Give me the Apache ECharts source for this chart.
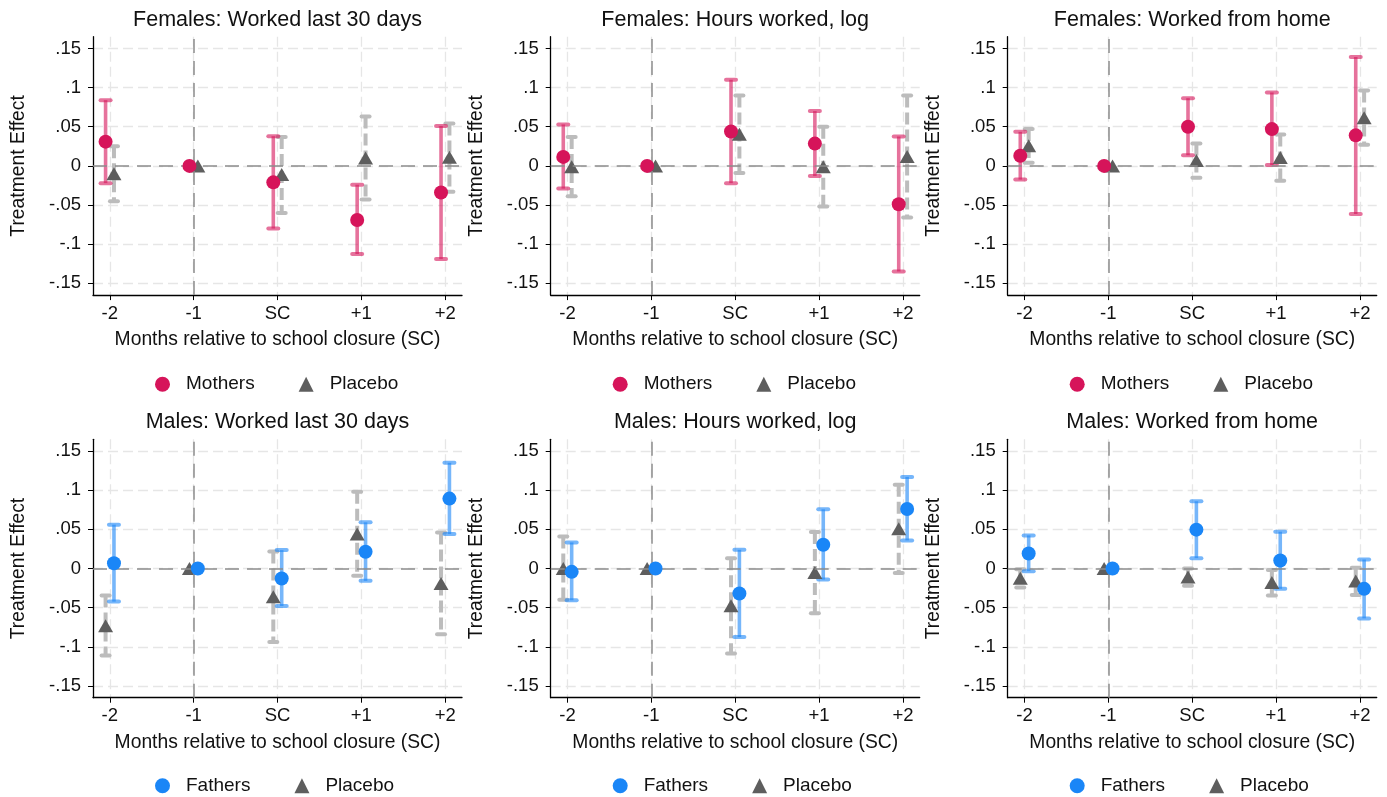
<!DOCTYPE html>
<html>
<head>
<meta charset="utf-8">
<script src="https://cdn.jsdelivr.net/npm/echarts@6/dist/echarts.min.js"></script>
<style>
html,body{margin:0;padding:0;background:#fff;}
#chart{width:1387px;height:797px;}
</style>
</head>
<body>
<div id="chart"></div>
<script>
// ---------- data ----------
const categories = ['-2', '-1', 'SC', '+1', '+2'];
const yTicks = [-0.15, -0.1, -0.05, 0, 0.05, 0.1, 0.15];
const panelTitles = [
  'Females: Worked last 30 days', 'Females: Hours worked, log', 'Females: Worked from home',
  'Males: Worked last 30 days', 'Males: Hours worked, log', 'Males: Worked from home'
];

// Females: Worked last 30 days
const fWorkMothers   = [0.031, 0, -0.021, -0.069, -0.034];
const fWorkMothersLo = [-0.022, 0, -0.080, -0.1125, -0.119];
const fWorkMothersHi = [0.084, 0, 0.038, -0.024, 0.051];
const fWorkPlacebo   = [-0.010, 0, -0.011, 0.010, 0.011];
const fWorkPlaceboLo = [-0.045, 0, -0.060, -0.043, -0.033];
const fWorkPlaceboHi = [0.025, 0, 0.037, 0.063, 0.054];

// Females: Hours worked, log
const fHoursMothers   = [0.0115, 0, 0.044, 0.0285, -0.049];
const fHoursMothersLo = [-0.029, 0, -0.022, -0.013, -0.135];
const fHoursMothersHi = [0.053, 0, 0.110, 0.070, 0.0375];
const fHoursPlacebo   = [-0.001, 0, 0.0405, -0.001, 0.012];
const fHoursPlaceboLo = [-0.0388, 0, -0.009, -0.052, -0.066];
const fHoursPlaceboHi = [0.037, 0, 0.090, 0.050, 0.090];

// Females: Worked from home
const fHomeMothers   = [0.013, 0, 0.050, 0.047, 0.039];
const fHomeMothersLo = [-0.0175, 0, 0.0136, 0.001, -0.0614];
const fHomeMothersHi = [0.0435, 0, 0.0865, 0.0938, 0.139];
const fHomePlacebo   = [0.0258, 0, 0.0068, 0.0106, 0.0616];
const fHomePlaceboLo = [0.004, 0, -0.015, -0.019, 0.027];
const fHomePlaceboHi = [0.047, 0, 0.0286, 0.040, 0.0963];

// Males: Worked last 30 days
const mWorkFathers   = [0.0068, 0, -0.0128, 0.0214, 0.0893];
const mWorkFathersLo = [-0.0423, 0, -0.0479, -0.0158, 0.044];
const mWorkFathersHi = [0.056, 0, 0.0235, 0.059, 0.135];
const mWorkPlacebo   = [-0.073, 0, -0.036, 0.044, -0.019];
const mWorkPlaceboLo = [-0.111, 0, -0.094, -0.0094, -0.084];
const mWorkPlaceboHi = [-0.0346, 0, 0.0218, 0.0979, 0.046];

// Males: Hours worked, log
const mHoursFathers   = [-0.0043, 0, -0.032, 0.0303, 0.076];
const mHoursFathersLo = [-0.0406, 0, -0.0876, -0.0141, 0.0359];
const mHoursFathersHi = [0.0333, 0, 0.0239, 0.0756, 0.117];
const mHoursPlacebo   = [0.0, 0, -0.0477, -0.005, 0.0509];
const mHoursPlaceboLo = [-0.040, 0, -0.1085, -0.057, -0.0056];
const mHoursPlaceboHi = [0.041, 0, 0.0132, 0.0466, 0.107];

// Males: Worked from home
const mHomeFathers   = [0.0192, 0, 0.0496, 0.0103, -0.026];
const mHomeFathersLo = [-0.0034, 0, 0.0132, -0.026, -0.0637];
const mHomeFathersHi = [0.0423, 0, 0.0859, 0.047, 0.0115];
const mHomePlacebo   = [-0.0125, 0, -0.011, -0.018, -0.016];
const mHomePlaceboLo = [-0.0244, 0, -0.022, -0.0346, -0.0337];
const mHomePlaceboHi = [-0.001, 0, 0.0, -0.002, 0.001];

// ---------- layout / style ----------
const FONT = '"Liberation Sans", Arial, sans-serif';
const OFF = 0.05;
const gridLefts = [93, 550.7, 1007.7];
const gridTops = [36.7, 439.3];
const GW = 369, GH = 258.4;

const panels = [
  {group: 'Mothers', m: fWorkMothers, mLo: fWorkMothersLo, mHi: fWorkMothersHi, p: fWorkPlacebo, pLo: fWorkPlaceboLo, pHi: fWorkPlaceboHi},
  {group: 'Mothers', m: fHoursMothers, mLo: fHoursMothersLo, mHi: fHoursMothersHi, p: fHoursPlacebo, pLo: fHoursPlaceboLo, pHi: fHoursPlaceboHi},
  {group: 'Mothers', m: fHomeMothers, mLo: fHomeMothersLo, mHi: fHomeMothersHi, p: fHomePlacebo, pLo: fHomePlaceboLo, pHi: fHomePlaceboHi},
  {group: 'Fathers', m: mWorkFathers, mLo: mWorkFathersLo, mHi: mWorkFathersHi, p: mWorkPlacebo, pLo: mWorkPlaceboLo, pHi: mWorkPlaceboHi},
  {group: 'Fathers', m: mHoursFathers, mLo: mHoursFathersLo, mHi: mHoursFathersHi, p: mHoursPlacebo, pLo: mHoursPlaceboLo, pHi: mHoursPlaceboHi},
  {group: 'Fathers', m: mHomeFathers, mLo: mHomeFathersLo, mHi: mHomeFathersHi, p: mHomePlacebo, pLo: mHomePlaceboLo, pHi: mHomePlaceboHi}
];

const COL = {
  Mothers: {dot: '#d6145a', bar: 'rgba(214,20,90,0.6)'},
  Fathers: {dot: '#1a86f7', bar: 'rgba(26,134,247,0.6)'},
  Placebo: {dot: '#5e5e5e', bar: '#bcbcbc'}
};

function ciRender(color, dashed) {
  return function (params, api) {
    const x = api.value(0), lo = api.value(1), hi = api.value(2);
    if (lo === hi) return null;
    const a = api.coord([x, hi]), b = api.coord([x, lo]);
    const capW = dashed ? 8 : 10;
    const main = {stroke: color, lineWidth: dashed ? 4 : 3.6, lineCap: 'butt'};
    if (dashed) main.lineDash = [12, 5];
    const cap = {stroke: color, lineWidth: 4, lineCap: 'round'};
    return {type: 'group', children: [
      {type: 'line', shape: {x1: a[0], y1: a[1], x2: b[0], y2: b[1]}, style: main},
      {type: 'line', shape: {x1: a[0] - capW / 2, y1: a[1], x2: a[0] + capW / 2, y2: a[1]}, style: cap},
      {type: 'line', shape: {x1: b[0] - capW / 2, y1: b[1], x2: b[0] + capW / 2, y2: b[1]}, style: cap}
    ]};
  };
}

function fmtY(v) {
  if (Math.abs(v) < 1e-9) return '0';
  let s = Math.abs(v).toFixed(2).replace(/0+$/, '').replace(/^0/, '');
  return (v < 0 ? '-' : '') + s;
}

const grid = [], xAxis = [], yAxis = [], series = [], title = [], legend = [];
panels.forEach((pn, i) => {
  const col = i % 3, row = Math.floor(i / 3);
  const left = gridLefts[col], top = gridTops[row];
  grid.push({left: left, top: top, width: GW, height: GH, containLabel: false});
  title.push({
    text: panelTitles[i], left: left + GW / 2, top: top - 28, textAlign: 'center', padding: 0,
    textStyle: {fontFamily: FONT, fontSize: 21.5, fontWeight: 'normal', color: '#111'}
  });
  xAxis.push({
    type: 'value', gridIndex: i, min: -0.2, max: 4.2,
    name: 'Months relative to school closure (SC)', nameLocation: 'middle', nameGap: 35,
    nameTextStyle: {fontFamily: FONT, fontSize: 19.3, color: '#111'},
    axisLine: {show: true, onZero: false, lineStyle: {color: '#000', width: 1.3}},
    axisTick: {show: true, length: 5, customValues: [0, 1, 2, 3, 4], lineStyle: {color: '#000', width: 1}},
    axisLabel: {customValues: [0, 1, 2, 3, 4], margin: 9, fontFamily: FONT, fontSize: 18.5, color: '#111',
      formatter: v => categories[Math.round(v)]},
    splitLine: {show: true, lineStyle: {color: '#e6e6e6', width: 1.3, type: [10, 5]}}
  });
  yAxis.push({
    type: 'value', gridIndex: i, min: -0.165, max: 0.165,
    name: 'Treatment Effect', nameLocation: 'middle', nameGap: 65,
    nameTextStyle: {fontFamily: FONT, fontSize: 19.3, color: '#111'},
    axisLine: {show: true, onZero: false, lineStyle: {color: '#000', width: 1.3}},
    axisTick: {show: true, length: 5, customValues: yTicks, lineStyle: {color: '#000', width: 1}},
    axisLabel: {customValues: yTicks, margin: 12, fontFamily: FONT, fontSize: 18.5, color: '#111', formatter: fmtY},
    splitLine: {show: true, lineStyle: {color: '#e6e6e6', width: 1.3, type: [10, 5]}}
  });
  const isF = pn.group === 'Mothers';
  const mOff = isF ? -OFF : OFF, pOff = isF ? OFF : -OFF;
  // reference lines
  series.push({
    type: 'line', xAxisIndex: i, yAxisIndex: i, data: [], silent: true, z: 1,
    markLine: {silent: true, symbol: 'none', animation: false, label: {show: false},
      lineStyle: {color: '#8c8c8c', width: 1.5, type: [14, 8]},
      data: [{yAxis: 0}, {xAxis: 1}]}
  });
  const mCI = pn.m.map((v, k) => [k + mOff, pn.mLo[k], pn.mHi[k]]);
  const pCI = pn.p.map((v, k) => [k + pOff, pn.pLo[k], pn.pHi[k]]);
  series.push({type: 'custom', name: 'Placebo CI', xAxisIndex: i, yAxisIndex: i, z: 2, silent: true,
    renderItem: ciRender(COL.Placebo.bar, true), data: pCI, animation: false});
  series.push({type: 'custom', name: pn.group + ' CI', xAxisIndex: i, yAxisIndex: i, z: 3, silent: true,
    renderItem: ciRender(COL[pn.group].bar, false), data: mCI, animation: false});
  series.push({type: 'scatter', name: 'Placebo', xAxisIndex: i, yAxisIndex: i, z: 4,
    symbol: 'triangle', symbolSize: [15, 13], itemStyle: {color: COL.Placebo.dot, opacity: 1},
    data: pn.p.map((v, k) => [k + pOff, v]), animation: false});
  series.push({type: 'scatter', name: pn.group, xAxisIndex: i, yAxisIndex: i, z: 5,
    symbol: 'circle', symbolSize: 14, itemStyle: {color: COL[pn.group].dot, opacity: 1},
    data: pn.m.map((v, k) => [k + mOff, v]), animation: false});
  legend.push({
    left: left + 62, top: top + (row === 0 ? 338 : 337), padding: 0, itemGap: 44,
    itemWidth: 15, itemHeight: 15, selectedMode: false,
    textStyle: {fontFamily: FONT, fontSize: 19, color: '#111', padding: [0, 0, 0, 11]},
    data: [{name: pn.group, icon: 'circle'}, {name: 'Placebo', icon: 'triangle'}]
  });
});

const chart = echarts.init(document.getElementById('chart'), null, {renderer: 'canvas'});
chart.setOption({
  backgroundColor: '#fff',
  animation: false,
  title, legend, grid, xAxis, yAxis, series
});
</script>
</body>
</html>
